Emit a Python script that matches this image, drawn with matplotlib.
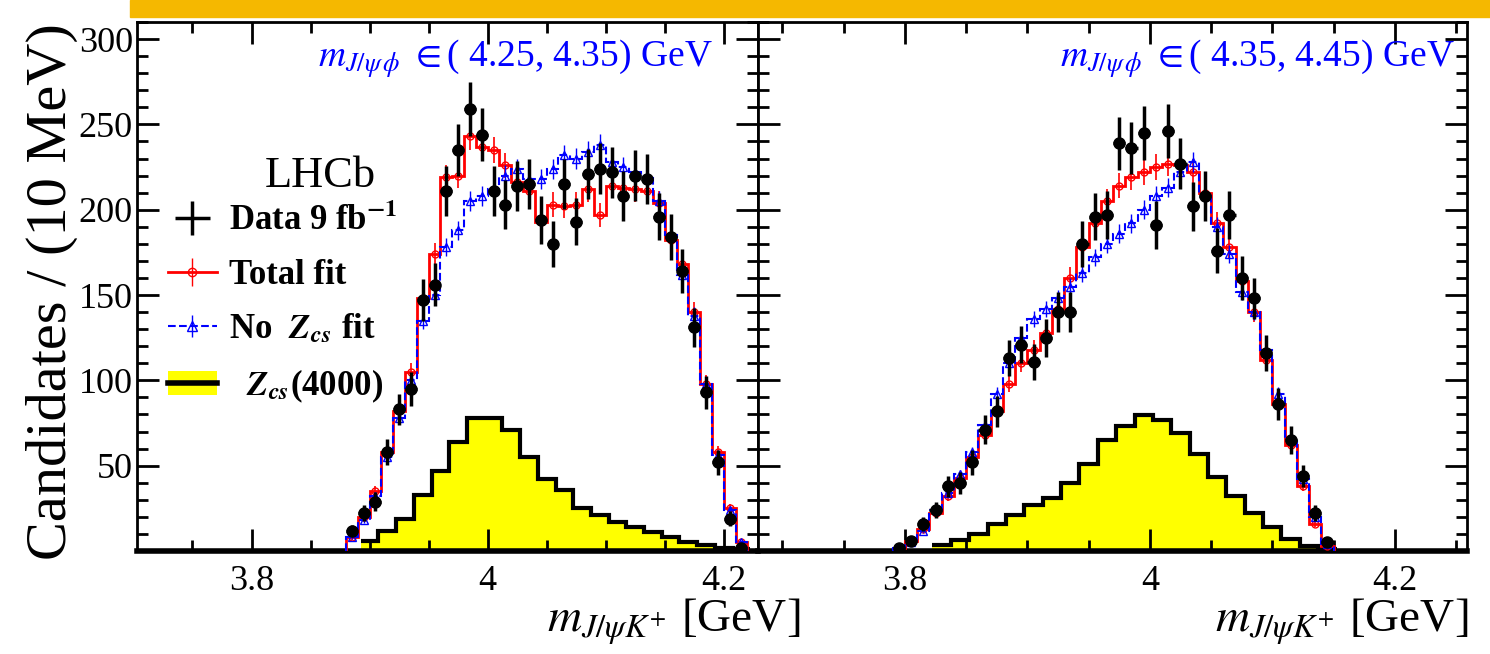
import matplotlib.pyplot as plt
import numpy as np
from matplotlib.patches import Patch, Rectangle
from matplotlib.lines import Line2D
from matplotlib.ticker import MultipleLocator, FixedLocator, FormatStrFormatter

plt.rcParams['font.family'] = ['Liberation Serif', 'DejaVu Serif']
plt.rcParams['mathtext.fontset'] = 'stix'

# ---- left panel: m(J/psi phi) in (4.25, 4.35) GeV, 10 MeV bins from 3.885
left_first, left_nbins = 3.885, 34
data_left = [12, 22, 29, 58, 83, 95, 147, 156, 211, 235, 259, 244, 211, 203, 214, 215,
             194, 180, 215, 193, 221, 224, 222, 208, 220, 218, 196, 184, 164, 131,
             93, 52, 19, 2]
total_left = [8, 20, 35, 58, 82, 105, 148, 174, 219, 220, 243, 237, 235, 226, 216, 211,
              193, 203, 202, 203, 212, 197, 214, 213, 212, 211, 204, 182, 168, 140,
              98, 58, 25, 5]
nozcs_left = [8, 18, 32, 55, 78, 100, 135, 150, 178, 188, 205, 208, 212, 220, 224, 218,
              218, 224, 232, 230, 234, 238, 228, 225, 222, 220, 205, 185, 162, 138,
              98, 56, 24, 5]
# Zcs(4000) component, 15 MeV bins from 3.8925
zcs_left_start = 3.8925
zcs_left = [6, 12, 19, 33, 47, 64, 78, 78, 71, 55, 42, 36, 25, 21, 17, 14, 11, 8, 5, 3.5, 2, 1]

# ---- right panel: m(J/psi phi) in (4.35, 4.45) GeV, 10 MeV bins from 3.795
right_first, right_nbins = 3.795, 36
data_right = [1.6, 6, 16, 24, 38, 40, 52, 71, 82, 113, 121, 111, 125, 140, 140, 180,
              196, 197, 239, 236, 245, 191, 246, 227, 202, 208, 176, 197, 160, 148,
              116, 86, 65, 44, 22, 5]
total_right = [2, 6, 13, 22, 32, 43, 55, 68, 82, 98, 110, 118, 128, 142, 160, 178,
               192, 205, 214, 219, 222, 225, 227, 226, 222, 210, 192, 178, 158, 140,
               112, 86, 62, 38, 16, 3]
nozcs_right = [2, 5, 12, 24, 34, 45, 58, 74, 92, 110, 125, 136, 142, 148, 155, 163,
               172, 180, 186, 192, 200, 208, 213, 222, 228, 210, 190, 174, 152, 140,
               118, 92, 66, 42, 20, 4]
zcs_right_start = 3.8225
zcs_right = [3.5, 6.4, 10, 16, 21, 27, 31, 40, 51, 65, 73, 79.5, 77, 69, 57, 43.5, 32, 22,
             14, 7, 3, 1]

panel_labels = [r'$m_{J/\psi\,\phi}$ $\in$( 4.25, 4.35) GeV',
                r'$m_{J/\psi\,\phi}$ $\in$( 4.35, 4.45) GeV']

W, H = 1490, 654
fig = plt.figure(figsize=(W / 100, H / 100), dpi=100)

# orange banner strip at the top (cropped slide header)
fig.add_artist(Rectangle((130 / W, 1 - 17 / H), 1, 17 / H, transform=fig.transFigure,
                         color='#f5b800', zorder=0))

axL = fig.add_axes([137 / W, 1 - 551 / H, 621 / W, 529 / H])
axR = fig.add_axes([758 / W, 1 - 551 / H, 709 / W, 529 / H])


def draw_panel(ax, first, nbins, data, total, nozcs, zstart, zcs):
    x = first + 0.01 * np.arange(nbins)
    edges = np.append(x - 0.005, x[-1] + 0.005)
    zedges = zstart + 0.015 * np.arange(len(zcs) + 1)
    data, total, nozcs = np.array(data), np.array(total), np.array(nozcs)

    ax.stairs(zcs, zedges, fill=True, color='yellow', zorder=1)
    ax.stairs(zcs, zedges, color='black', lw=3, zorder=2, baseline=None)

    ax.stairs(total, edges, color='red', lw=2, zorder=3)
    ax.errorbar(x, total, yerr=0.5 * np.sqrt(total), fmt='o', ms=5, mfc='none',
                mec='red', ecolor='red', elinewidth=1.2, zorder=3)
    ax.stairs(nozcs, edges, color='blue', lw=1.5, ls='--', zorder=4)
    ax.errorbar(x, nozcs, yerr=0.4 * np.sqrt(nozcs), fmt='^', ms=6, mfc='none',
                mec='blue', ecolor='blue', elinewidth=1, zorder=4)

    ax.errorbar(x, data, yerr=np.sqrt(data), xerr=0.005, fmt='o', color='black',
                ms=8, elinewidth=2.5, capsize=0, zorder=5)


def style(ax, xlim, ylabels=True):
    ax.set_xlim(*xlim)
    ax.set_ylim(0, 310)
    ax.xaxis.set_major_locator(MultipleLocator(0.2))
    ax.xaxis.set_minor_locator(MultipleLocator(0.05))
    ax.xaxis.set_major_formatter(FormatStrFormatter('%g'))
    ax.yaxis.set_major_locator(FixedLocator([50, 100, 150, 200, 250, 300]))
    ax.yaxis.set_minor_locator(MultipleLocator(10))
    ax.tick_params(which='both', direction='in', top=True, right=True, width=2,
                   labelsize=26)
    ax.tick_params(axis='x', pad=10)
    ax.tick_params(axis='y', pad=3)
    ax.tick_params(which='major', length=16)
    ax.tick_params(which='minor', length=8)
    if not ylabels:
        ax.tick_params(labelleft=False)
    for s in ax.spines.values():
        s.set_linewidth(2)
    ax.spines['bottom'].set_linewidth(4)


draw_panel(axL, left_first, left_nbins, data_left, total_left, nozcs_left,
           zcs_left_start, zcs_left)
draw_panel(axR, right_first, right_nbins, data_right, total_right, nozcs_right,
           zcs_right_start, zcs_right)
style(axL, (3.703, 4.229))
style(axR, (3.68, 4.259), ylabels=False)

axL.text(0.291, 0.93, panel_labels[0], transform=axL.transAxes, color='blue',
         fontsize=27, va='center', ha='left')
axR.text(0.426, 0.93, panel_labels[1], transform=axR.transAxes, color='blue',
         fontsize=27, va='center', ha='left')
axL.text(0.295, 0.708, 'LHCb', transform=axL.transAxes, fontsize=32,
         ha='center', va='center')

h_data = axL.errorbar([], [], yerr=[], xerr=[], fmt='none', color='black', elinewidth=2.5)
h_tot = (Line2D([], [], color='red', lw=2, marker='o', ms=6, mfc='none'),
         Line2D([], [], color='red', lw=0, marker='|', ms=20))
h_noz = (Line2D([], [], color='blue', lw=1.5, ls='--', marker='^', ms=7, mfc='none'),
         Line2D([], [], color='blue', lw=0, marker='|', ms=16))
h_zcs = (Patch(facecolor='yellow', edgecolor='none'), Line2D([], [], color='black', lw=4))
axL.legend([h_data, h_tot, h_noz, h_zcs],
           [r'Data 9 fb$^{\mathbf{-1}}$', 'Total fit',
            r'No  $\mathbfit{Z}_{\mathbfit{cs}}$ fit', r'  $\mathbfit{Z}_{\mathbfit{cs}}$(4000)'],
           loc='upper left', bbox_to_anchor=(0.05, 0.655), frameon=False,
           prop={'weight': 'bold', 'size': 25}, handlelength=1.4, handletextpad=0.35,
           labelspacing=0.6, borderpad=0, borderaxespad=0)

axL.set_ylabel('Candidates / (10 MeV)', fontsize=42)
axL.yaxis.set_label_coords(-0.095, 0.49)
fig.text(800 / W, 1 - 622 / H, r'$m_{J/\psi K^{+}}$ [GeV]', fontsize=34,
         ha='right', va='center')
fig.text(1468 / W, 1 - 622 / H, r'$m_{J/\psi K^{+}}$ [GeV]', fontsize=34,
         ha='right', va='center')

fig.savefig('out.png', dpi=100)
